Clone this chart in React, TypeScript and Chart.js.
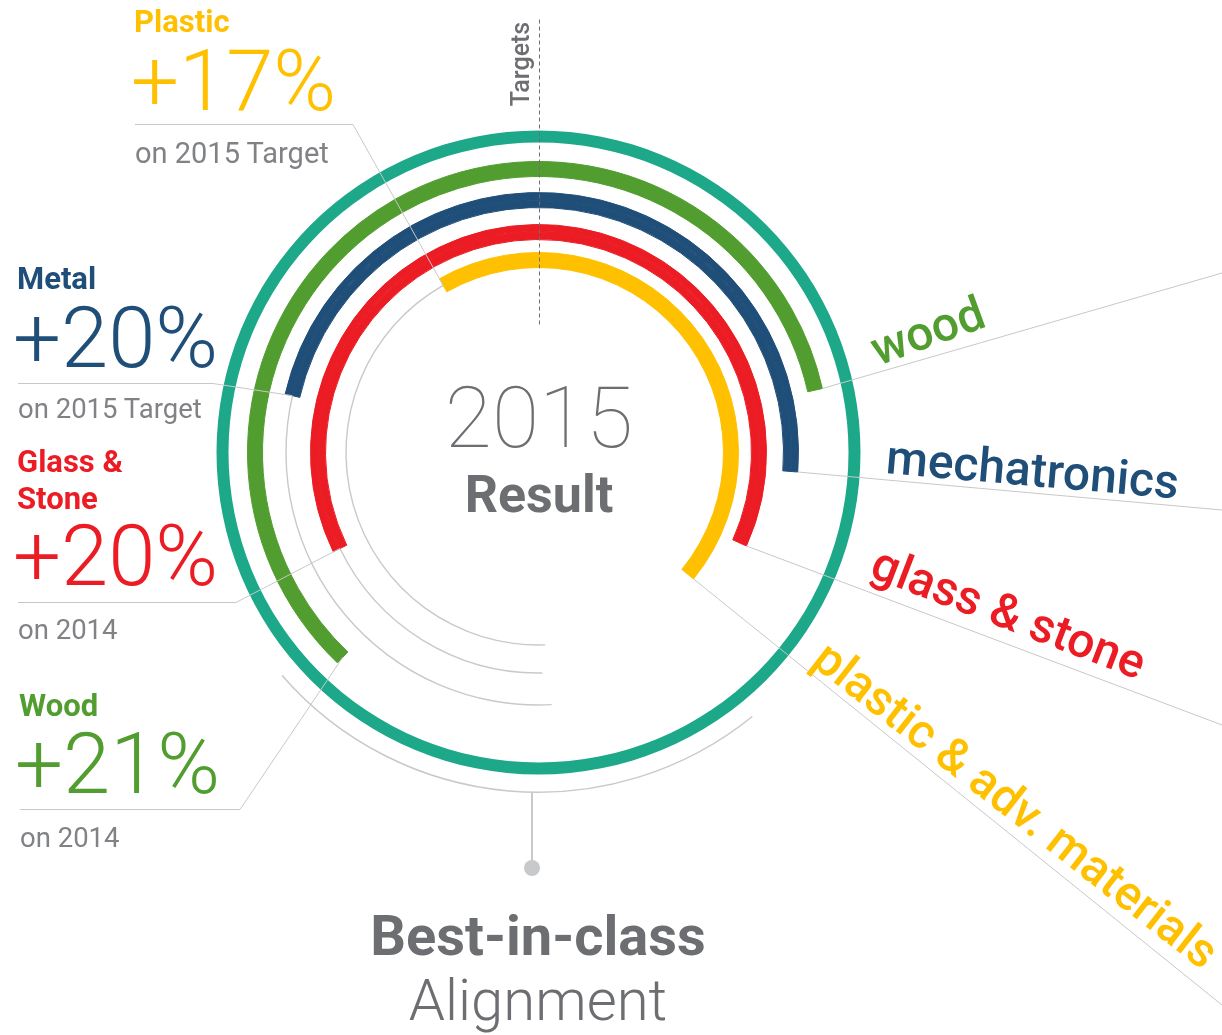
import React, { useEffect, useRef } from 'react';
import { Chart, registerables } from 'chart.js';

Chart.register(...registerables);

// ---------------- data ----------------
// concentric result rings, outer to inner (angles in degrees, clockwise from 12 o'clock)
const ringNames = ['wood', 'mechatronics', 'glass & stone', 'plastic & adv. materials'];
const resultStartDeg = [223.7, 283.0, 244.2, 330.3];
const resultEndDeg = [77.3, 94.3, 114.2, 129.2];
// grey target track running from the bottom of the circle up to the start of each result
const trackStartDeg = [NaN, 177.0, 179.0, 178.0];
// outer "best-in-class alignment" arc
const alignmentArcDeg = [141, 229];

// left call-outs
const calloutTitles = [['Plastic'], ['Metal'], ['Glass &', 'Stone'], ['Wood']];
const calloutRing = [3, 1, 2, 0];
const calloutChange = [17, 20, 20, 21];
const calloutBasis = ['on 2015 Target', 'on 2015 Target', 'on 2014', 'on 2014'];

const centerYear = '2015';
const centerLabel = 'Result';
const targetsLabel = 'Targets';
const footerBold = 'Best-in-class';
const footerLight = 'Alignment';

// ---------------- styles ----------------
const ringColors = ['#519D2F', '#1F4E79', '#EC1C24', '#FFC000'];
const TEAL = '#1DA88A';
const TRACK = '#C9C9C9';
const LEADER = '#C8C8C8';
const GREY_TEXT = '#6D6E71';
const BASIS_TEXT = '#808285';
const TRANSPARENT = 'rgba(0,0,0,0)';
const FONT = 'Roboto, "Noto Sans", sans-serif';

const W = 1222;
const H = 1035;
const CX = 538.5;
const CY = 452.5;
const R_OUT = 340.5;

const span = (a: number, b: number) => (((b - a) % 360) + 360) % 360;

type Layer = any;

const gap = (w: number): Layer => ({
  data: [1],
  backgroundColor: [TRANSPARENT],
  borderColor: [TRANSPARENT],
  borderWidth: [0],
  weight: w,
});

const ringIndex: { first: number; mid: number; midEl: number }[] = [];

function buildLayers(): Layer[] {
  const layers: Layer[] = [];
  const a = span(alignmentArcDeg[0], alignmentArcDeg[1]);
  layers.push({
    data: [a, 360 - a],
    backgroundColor: [TRACK, TRANSPARENT],
    borderColor: [TRANSPARENT, TRANSPARENT],
    borderWidth: [0, 0],
    rotation: alignmentArcDeg[0],
    weight: 1.5,
  });
  layers.push(gap(17));
  layers.push({
    data: [360],
    backgroundColor: [TEAL],
    borderColor: [TEAL],
    borderWidth: [0],
    weight: 12,
  });
  const gaps = [19, 16, 17, 13];
  ringNames.forEach((_, i) => {
    layers.push(gap(gaps[i]));
    const s = resultStartDeg[i];
    const res = span(s, resultEndDeg[i]);
    const color = ringColors[i];
    const full = (w: number): Layer => ({
      data: [res, 360 - res],
      backgroundColor: [color, TRANSPARENT],
      borderColor: [color, TRANSPARENT],
      borderWidth: [1, 0],
      rotation: s,
      weight: w,
    });
    if (isNaN(trackStartDeg[i])) {
      ringIndex[i] = { first: layers.length, mid: layers.length, midEl: 0 };
      layers.push(full(15));
      return;
    }
    const t = trackStartDeg[i];
    const tr = span(t, s);
    ringIndex[i] = { first: layers.length, mid: layers.length + 1, midEl: 1 };
    layers.push(full(6.8));
    layers.push({
      data: [tr, res, 360 - tr - res],
      backgroundColor: [TRACK, color, TRANSPARENT],
      borderColor: [TRANSPARENT, color, TRANSPARENT],
      borderWidth: [0, 1, 0],
      rotation: t,
      weight: 1.4,
    });
    layers.push(full(6.8));
  });
  return layers;
}

// leader line layout
const leftLeaders = [
  { y: 124.5, x0: 135, x1: 353 },
  { y: 383.5, x0: 18, x1: 213 },
  { y: 602.5, x0: 18, x1: 236 },
  { y: 809.5, x0: 20, x1: 240 },
];
const rightLeaderEnds = [
  [1222, 273],
  [1222, 510],
  [1222, 725],
  [1222, 1005],
];

const annotationPlugin = {
  id: 'infographicAnnotations',
  afterDatasetsDraw(chart: any) {
    const ctx = chart.ctx as CanvasRenderingContext2D;
    const area = chart.chartArea;
    const cx = (area.left + area.right) / 2;
    const cy = (area.top + area.bottom) / 2;
    ctx.save();
    ctx.strokeStyle = LEADER;
    ctx.lineWidth = 1;

    const geo = (i: number) => {
      const idx = ringIndex[i];
      const midEl = chart.getDatasetMeta(idx.mid).data[idx.midEl] as any;
      const firstEl = chart.getDatasetMeta(idx.first).data[0] as any;
      const firstLast = chart.getDatasetMeta(idx.first + (idx.first === idx.mid ? 0 : 2)).data[0] as any;
      const midR = (firstEl.outerRadius + firstLast.innerRadius) / 2;
      return { start: midEl.startAngle, end: midEl.endAngle, midR, outerR: firstEl.outerRadius };
    };

    // left call-out leaders
    calloutRing.forEach((ring, k) => {
      const g = geo(ring);
      const L = leftLeaders[k];
      const px = cx + g.midR * Math.cos(g.start);
      const py = cy + g.midR * Math.sin(g.start);
      ctx.beginPath();
      ctx.moveTo(L.x0, L.y);
      ctx.lineTo(L.x1, L.y);
      ctx.lineTo(px, py);
      ctx.stroke();
    });

    // right ring-name leaders
    ringNames.forEach((_, i) => {
      const g = geo(i);
      const px = cx + g.outerR * Math.cos(g.end);
      const py = cy + g.outerR * Math.sin(g.end);
      ctx.beginPath();
      ctx.moveTo(px, py);
      ctx.lineTo(rightLeaderEnds[i][0], rightLeaderEnds[i][1]);
      ctx.stroke();
    });

    // dashed "Targets" reference line at 12 o'clock
    ctx.strokeStyle = '#6D6E71';
    ctx.setLineDash([4, 3]);
    ctx.beginPath();
    ctx.moveTo(Math.round(cx) + 0.5, cy - 433);
    ctx.lineTo(Math.round(cx) + 0.5, cy - 125);
    ctx.stroke();
    ctx.setLineDash([]);

    // stem + dot under the alignment arc
    const stemX = cx - 6.5;
    ctx.strokeStyle = '#C8C9CB';
    ctx.lineWidth = 2;
    ctx.beginPath();
    ctx.moveTo(stemX, cy + R_OUT - 1);
    ctx.lineTo(stemX, 868);
    ctx.stroke();
    ctx.fillStyle = '#C8C9CB';
    ctx.beginPath();
    ctx.arc(stemX, 868, 8, 0, Math.PI * 2);
    ctx.fill();
    ctx.restore();
  },
};

export default function App() {
  const ref = useRef<HTMLCanvasElement>(null);

  useEffect(() => {
    if (!ref.current) return;
    const layers = buildLayers();
    const totalWeight = layers.reduce((s, l) => s + l.weight, 0);
    const left = CX - R_OUT;
    const top = CY - R_OUT;
    const chart = new Chart(ref.current, {
      type: 'doughnut',
      data: {
        labels: ['segment', 'segment 2', 'segment 3'],
        datasets: layers.map((l) => ({ ...l, hoverBorderWidth: 0, hoverOffset: 0, offset: 0 })),
      },
      options: {
        responsive: false,
        animation: false,
        events: [],
        cutout: R_OUT - totalWeight,
        layout: {
          padding: { left, top, right: W - left - 2 * R_OUT, bottom: H - top - 2 * R_OUT },
        },
        plugins: { legend: { display: false }, tooltip: { enabled: false } },
      } as any,
      plugins: [annotationPlugin],
    });
    return () => chart.destroy();
  }, []);

  const leftX = [[134, 131, 135], [17, 13, 18], [17, 13, 18], [19, 15, 20]];
  const titleY = [[32], [289], [472, 509], [716]];
  const changeY = [110, 367, 585, 793];
  const basisY = [163, 418, 639, 847];
  const basisSize = [29, 27.5, 27.5, 27.5];

  const rightLabels = [
    { x: 878, y: 366, a: -20 },
    { x: 885, y: 473, a: 5 },
    { x: 868, y: 576, a: 21 },
    { x: 810, y: 664, a: 38 },
  ];

  return (
    <div style={{ position: 'absolute', left: 0, top: 0, width: W, height: H, overflow: 'hidden', background: '#fff' }}>
      <canvas ref={ref} width={W} height={H} style={{ position: 'absolute', left: 0, top: 0 }} />
      <svg width={W} height={H} style={{ position: 'absolute', left: 0, top: 0, pointerEvents: 'none' }}>
        <g style={{ fontFamily: FONT }}>
          {calloutTitles.map((lines, k) => {
            const color = ringColors[calloutRing[k]];
            return (
              <g key={k}>
                {lines.map((t, j) => (
                  <text key={j} x={leftX[k][0]} y={titleY[k][j]} fill={color} fontSize={31} fontWeight={700}>
                    {t}
                  </text>
                ))}
                <text x={leftX[k][1]} y={changeY[k]} fill={color} fontSize={85} fontWeight={300}>
                  {`+${calloutChange[k]}%`}
                </text>
                <text x={leftX[k][2]} y={basisY[k]} fill={BASIS_TEXT} fontSize={basisSize[k]} fontWeight={400}>
                  {calloutBasis[k]}
                </text>
              </g>
            );
          })}

          {ringNames.map((n, i) => (
            <text
              key={n}
              x={rightLabels[i].x}
              y={rightLabels[i].y}
              fill={ringColors[i]}
              fontSize={48}
              fontWeight={500}
              transform={`rotate(${rightLabels[i].a} ${rightLabels[i].x} ${rightLabels[i].y})`}
            >
              {n}
            </text>
          ))}

          <text x={529} y={64} fill={GREY_TEXT} fontSize={25} fontWeight={500} textAnchor="middle" transform="rotate(-90 529 64)">
            {targetsLabel}
          </text>

          <text x={539} y={447} fill={GREY_TEXT} fontSize={86} fontWeight={100} textAnchor="middle">
            {centerYear}
          </text>
          <text x={539} y={512} fill={GREY_TEXT} fontSize={52} fontWeight={700} textAnchor="middle">
            {centerLabel}
          </text>

          <text x={538} y={955} fill={GREY_TEXT} fontSize={56} fontWeight={700} textAnchor="middle">
            {footerBold}
          </text>
          <text x={538} y={1020} fill={GREY_TEXT} fontSize={58} fontWeight={300} textAnchor="middle">
            {footerLight}
          </text>
        </g>
      </svg>
    </div>
  );
}
